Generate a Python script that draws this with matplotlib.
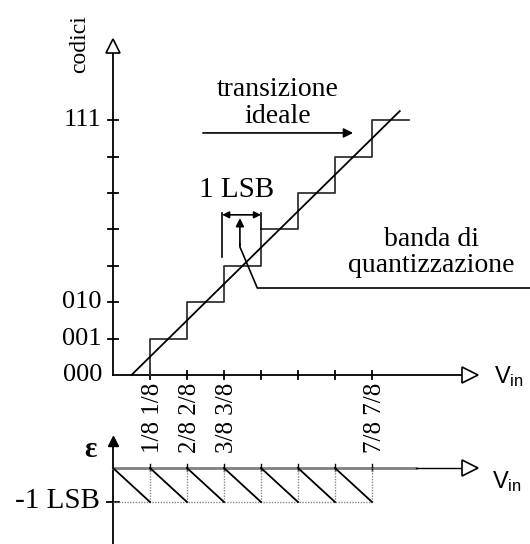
import numpy as np
import matplotlib
matplotlib.use('Agg')
import matplotlib.pyplot as plt

# transfer characteristic of an ideal 3-bit ADC (units: LSB / code)
transitions = [1, 2, 3, 4, 5, 6, 7]
full_scale = 8
code_ticks = [1, 2, 3, 4, 5, 6, 7]
code_labels = ['000', '001', '010', '111']
code_label_pos = [0, 1, 2, 7]
vin_labels = ['1/8 1/8', '2/8 2/8', '3/8 3/8', '7/8 7/8']
vin_label_pos = [1, 2, 3, 7]
ideal_x = [0.5, 7.75]
ideal_y = [0.0, 7.25]
err_top = 0
err_bottom = -1

serif = 'Liberation Serif'
sans = 'Liberation Sans'
px, py = 37.0, 36.4     # pixels per LSB / per code
pe = 34.0               # pixels per error LSB

fig = plt.figure(figsize=(5.3, 5.44), dpi=100)
ax = fig.add_axes([0, 0, 1, 1])
ax.set_xlim(-113 / px, (530 - 113) / px)
ax.set_ylim((375 - 544) / py, 375 / py)
ax.axis('off')

ax2 = fig.add_axes([0, 0, 1, 1])
ax2.set_xlim(ax.get_xlim())
ax2.set_ylim((468 - 544) / pe, 468 / pe)
ax2.axis('off')
ax2.patch.set_alpha(0)

lw = 1.3

# ---- upper plot: axes
ax.plot([0, 0], [0, 8.86], color='k', lw=lw)
ax.plot([0, 9.43], [0, 0], color='k', lw=lw)
ax.plot([0], [9.05], marker='^', ms=10, mfc='white', mec='k', mew=1.2)
ax.plot([9.65], [0], marker='>', ms=11, mfc='white', mec='k', mew=1.2)
for c in code_ticks:
    ax.plot([-0.14, 0.14], [c, c], color='k', lw=lw)
for k in transitions:
    ax.plot([k, k], [-0.12, 0.12], color='k', lw=lw)

# staircase
xs, ys = [], []
for i, k in enumerate(transitions):
    xs += [k, k]
    ys += [i, i + 1]
xs.append(full_scale)
ys.append(ys[-1])
ax.plot(xs, ys, color='#333333', lw=lw)

# ideal line
ax.plot(ideal_x, ideal_y, color='k', lw=lw)

# code labels
for lab, c in zip(code_labels, code_label_pos):
    ax.text(-0.3, c, lab, ha='right', va='center', fontsize=19, family=serif)
ax.text(-0.9, 9.09, 'codici', rotation=90, ha='center', va='center',
        fontsize=17, family=serif)

# Vin tick labels (rotated)
for lab, k in zip(vin_labels, vin_label_pos):
    ax.text(k + 0.08, -1.18, lab, rotation=90, ha='center', va='center',
            fontsize=18, family=serif)

ax.text(10.3, -0.03, r'$\mathregular{V_{in}}$', ha='left', va='center',
        fontsize=17, family=sans)

# "transizione ideale"
ax.text(4.46, 7.83, 'transizione', ha='center', va='center', fontsize=20, family=serif)
ax.text(4.46, 7.1, 'ideale', ha='center', va='center', fontsize=20, family=serif)
ax.annotate('', xy=(6.49, 6.65), xytext=(2.43, 6.65),
            arrowprops=dict(arrowstyle='-|>', color='k', lw=1.2,
                            mutation_scale=14, shrinkA=0, shrinkB=0))

# 1 LSB bracket
ax.text(3.33, 5.08, '1 LSB', ha='center', va='center', fontsize=21, family=serif)
ax.plot([2.95, 2.95], [3.24, 4.45], color='k', lw=1.2)
ax.plot([4.0, 4.0], [4.0, 4.45], color='k', lw=1.2)
ax.annotate('', xy=(4.0, 4.4), xytext=(2.95, 4.4),
            arrowprops=dict(arrowstyle='<|-|>', color='k', lw=1.2,
                            mutation_scale=10, shrinkA=0, shrinkB=0))

# banda di quantizzazione
ax.plot([11.3, 3.9, 3.43, 3.43], [2.39, 2.39, 3.52, 3.6], color='k', lw=1.2)
ax.annotate('', xy=(3.43, 4.31), xytext=(3.43, 3.55),
            arrowprops=dict(arrowstyle='-|>', color='k', lw=1.2,
                            mutation_scale=12, shrinkA=0, shrinkB=0))
ax.text(8.6, 3.71, 'banda di', ha='center', va='center', fontsize=20, family=serif)
ax.text(8.6, 3.0, 'quantizzazione', ha='center', va='center', fontsize=20, family=serif)

# ---- lower plot: quantization error
ax2.plot([0, 0], [-2.4, 0.8], color='k', lw=lw)
ax2.plot([0], [0.8], marker='^', ms=7, color='k')
ax2.plot([0, 8.2], [err_top, err_top], color='#808080', lw=2)
ax2.plot([8.2, 9.43], [err_top, err_top], color='k', lw=1)
ax2.plot([9.65], [0], marker='>', ms=11, mfc='white', mec='k', mew=1.2)
ax2.plot([-0.15, 0.15], [err_bottom, err_bottom], color='k', lw=lw)
for k in transitions:
    ax2.plot([k, k], [-0.1, 0.12], color='k', lw=1)
ax2.plot([0, transitions[-1]], [err_bottom, err_bottom], color='#888888', lw=1,
         ls=(0, (1, 1)))
for k in transitions:
    ax2.plot([k, k], [err_bottom, err_top], color='#888888', lw=1, ls=(0, (1, 1)))
for k in [0] + transitions[:-1]:
    ax2.plot([k, k + 1], [err_top, err_bottom], color='k', lw=lw)

ax2.text(-0.6, 0.53, 'ε', ha='center', va='center', fontsize=21,
         family=serif, fontweight='bold')
ax2.text(-0.35, -0.97, '-1 LSB', ha='right', va='center', fontsize=21, family=serif)
ax2.text(10.25, -0.41, r'$\mathregular{V_{in}}$', ha='left', va='center',
         fontsize=17, family=sans)

fig.savefig('out.png', dpi=100)
